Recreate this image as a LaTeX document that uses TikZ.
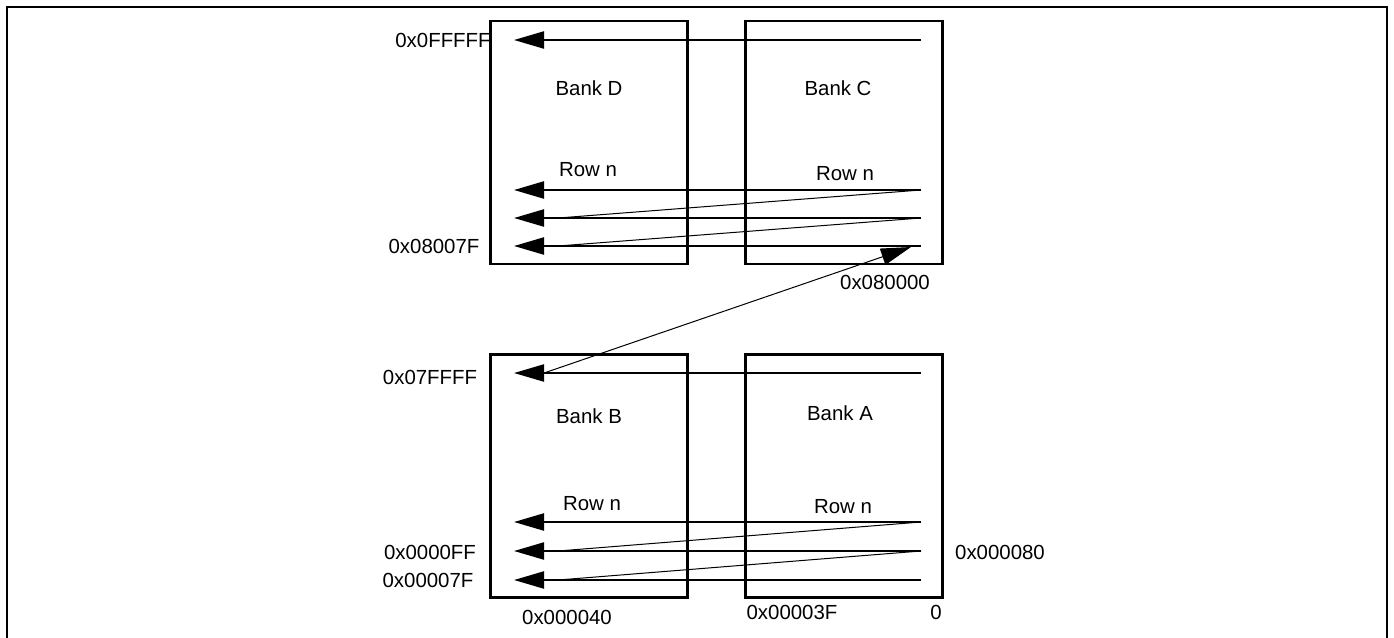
\documentclass[tikz,border=0pt]{standalone}
\usepackage{fontspec}
\setmainfont{Liberation Sans}
\usetikzlibrary{arrows.meta}

\begin{document}
\begin{tikzpicture}[x=0.5pt, y=-0.5pt, font=\fontsize{10.2}{12}\selectfont,
    bank/.style={draw, line width=1.1pt, minimum width=98.5pt, minimum height=121.5pt},
    rowarrow/.style={line width=1.1pt, -{Triangle[length=15pt, width=8.5pt]}},
    wrapline/.style={line width=0.5pt},
    addr/.style={inner sep=0pt}]
        \useasboundingbox (0,0) rectangle (1394,638);
        \draw[line width=1.1pt] (7,638) -- (7,7) -- (1387,7) -- (1387,638);

        % upper pair of banks
        \node[bank] (bankd) at (589,142.5) {};
        \node[bank] (bankc) at (844,142.5) {};
        \node (bankdname) at (589,88) {Bank D};
        \node (bankcname) at (838,88) {Bank C};
        \node (rowd) at (588,170) {Row n};
        \node (rowc) at (845,174) {Row n};

        % lower pair of banks
        \node[bank] (bankb) at (589,476) {};
        \node[bank] (banka) at (844,476) {};
        \node (bankbname) at (589,416) {Bank B};
        \node (bankaname) at (840,413) {Bank A};
        \node (rowb) at (592,504) {Row n};
        \node (rowa) at (843,507) {Row n};

        % row ends
        \coordinate (ctop) at (921,40);
        \coordinate (dtop) at (514,40);
        \coordinate (c1) at (921,190);
        \coordinate (c2) at (921,218);
        \coordinate (c3) at (921,246);
        \coordinate (d1) at (514,190);
        \coordinate (d2) at (514,218);
        \coordinate (d3) at (514,246);
        \coordinate (d2w) at (558,218);
        \coordinate (d3w) at (558,246);
        \coordinate (atop) at (921,373);
        \coordinate (btop) at (514,373);
        \coordinate (btopw) at (544,373);
        \coordinate (cin) at (911,247);
        \coordinate (a1) at (921,522);
        \coordinate (a2) at (921,551);
        \coordinate (a3) at (921,580);
        \coordinate (b1) at (514,522);
        \coordinate (b2) at (514,551);
        \coordinate (b3) at (514,580);
        \coordinate (b2w) at (558,551);
        \coordinate (b3w) at (558,580);

        \draw[rowarrow] (ctop) -- (dtop);
        \draw[rowarrow] (c1) -- (d1);
        \draw[rowarrow] (c2) -- (d2);
        \draw[rowarrow] (c3) -- (d3);
        \draw[wrapline] (c1) -- (d2w);
        \draw[wrapline] (c2) -- (d3w);

        \draw[rowarrow] (atop) -- (btop);
        \draw[rowarrow] (a1) -- (b1);
        \draw[rowarrow] (a2) -- (b2);
        \draw[rowarrow] (a3) -- (b3);
        \draw[wrapline] (a1) -- (b2w);
        \draw[wrapline] (a2) -- (b3w);

        \draw[wrapline, -{Triangle[length=15pt, width=8.5pt]}] (btopw) -- (cin);

        % addresses
        \node[addr] (a0fffff) at (443,40) {0x0FFFFF};
        \node[addr] (a08007f) at (434,246) {0x08007F};
        \node[addr] (a080000) at (885,282) {0x080000};
        \node[addr] (a07ffff) at (430,377) {0x07FFFF};
        \node[addr] (a0000ff) at (430,552) {0x0000FF};
        \node[addr] (a00007f) at (428,580) {0x00007F};
        \node[addr] (a000080) at (1000,552) {0x000080};
        \node[addr] (a000040) at (567,617) {0x000040};
        \node[addr] (a00003f) at (792,612) {0x00003F};
        \node[addr] (azero) at (936,612) {0};
    \end{tikzpicture}
\end{document}
